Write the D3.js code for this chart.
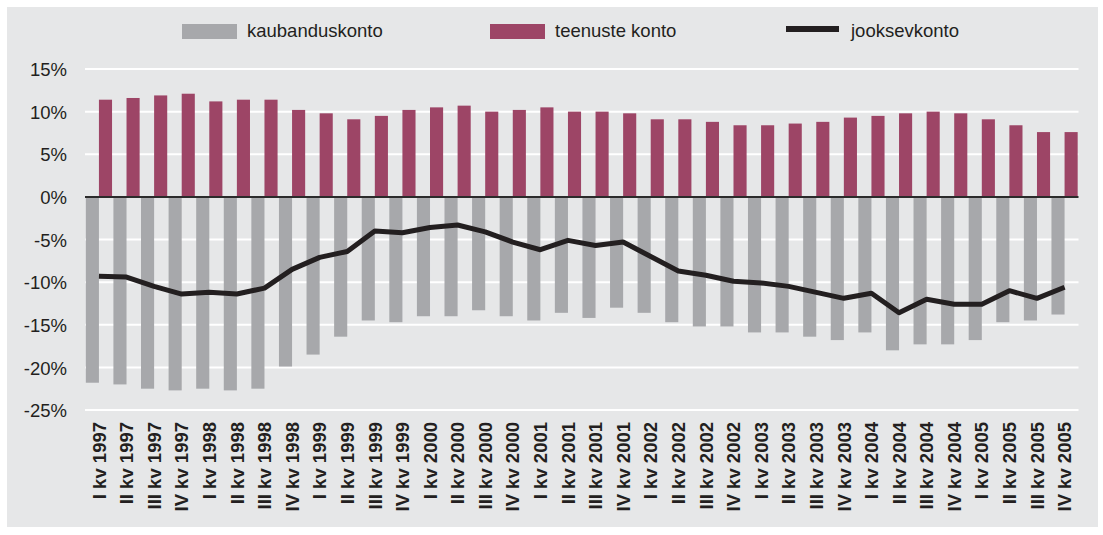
<!DOCTYPE html>
<html>
<head>
<meta charset="utf-8">
<script src="https://cdn.jsdelivr.net/npm/d3@7"></script>
<style>
  body { margin: 0; background: #fff; }
  text { font-family: "Liberation Sans", Arial, sans-serif; fill: #231f20; }
</style>
</head>
<body>
<svg class="chart" width="1103" height="535"></svg>
<script>
// quarters I kv 1997 .. IV kv 2005
const romans = ["I", "II", "III", "IV"];
const years = [1997, 1998, 1999, 2000, 2001, 2002, 2003, 2004, 2005];
const quarters = years.flatMap(y => romans.map(r => r + " kv " + y));

// % of GDP
const tradeValues = [
  -21.8, -22.0, -22.5, -22.7, -22.5, -22.7, -22.5, -19.9,
  -18.5, -16.4, -14.5, -14.7, -14.0, -14.0, -13.3, -14.0,
  -14.5, -13.6, -14.2, -13.0, -13.6, -14.7, -15.2, -15.2,
  -15.9, -15.9, -16.4, -16.8, -15.9, -18.0, -17.3, -17.3,
  -16.8, -14.7, -14.5, -13.8
];
const serviceValues = [
  11.4, 11.6, 11.9, 12.1, 11.2, 11.4, 11.4, 10.2,
  9.8, 9.1, 9.5, 10.2, 10.5, 10.7, 10.0, 10.2,
  10.5, 10.0, 10.0, 9.8, 9.1, 9.1, 8.8, 8.4,
  8.4, 8.6, 8.8, 9.3, 9.5, 9.8, 10.0, 9.8,
  9.1, 8.4, 7.6, 7.6
];
const currentValues = [
  -9.3, -9.4, -10.5, -11.4, -11.2, -11.4, -10.7, -8.5,
  -7.1, -6.4, -4.0, -4.2, -3.6, -3.3, -4.1, -5.3,
  -6.2, -5.1, -5.7, -5.3, -7.0, -8.7, -9.2, -9.9,
  -10.1, -10.5, -11.2, -11.9, -11.3, -13.6, -12.0, -12.6,
  -12.6, -11.0, -11.9, -10.6
];
const yTicks = [15, 10, 5, 0, -5, -10, -15, -20, -25];
const seriesNames = ["kaubanduskonto", "teenuste konto", "jooksevkonto"];

const greyColor = "#a7a8ab";
const maroonColor = "#9d4566";
const lineColor = "#231f20";

const svg = d3.select(".chart");

// background panel
svg.append("rect")
  .attr("x", 7).attr("y", 7)
  .attr("width", 1091).attr("height", 520)
  .attr("fill", "#e6e7e8");

const plotLeft = 85, plotRight = 1078.5, plotTop = 69, plotBottom = 410;

const xScale = d3.scaleBand().domain(quarters).range([plotLeft, plotRight])
  .paddingInner(0.05).paddingOuter(0.03);
const xSub = d3.scaleBand().domain(["trade", "services"]).range([0, xScale.bandwidth()]);
const yScale = d3.scaleLinear().domain([-25, 15]).range([plotBottom, plotTop]);

// gridlines
svg.append("g")
  .selectAll("line")
  .data(yTicks.filter(d => d !== 0))
  .enter()
  .append("line")
  .attr("x1", plotLeft).attr("x2", plotRight)
  .attr("y1", d => yScale(d)).attr("y2", d => yScale(d))
  .attr("stroke", "#fff")
  .attr("stroke-width", 2);

// y axis labels
const yAxis = svg.append("g")
  .attr("transform", "translate(" + (plotLeft - 15) + ",0)")
  .call(d3.axisLeft(yScale).tickValues(yTicks).tickSize(0).tickFormat(d => d + "%"));
yAxis.select(".domain").remove();
yAxis.selectAll("text")
  .attr("dy", "0.36em")
  .style("font-size", "18.5px")
  .style("font-family", "'Liberation Sans', Arial, sans-serif")
  .attr("fill", "#231f20");

const data = quarters.map((q, i) => ({
  q: q,
  trade: tradeValues[i],
  services: serviceValues[i],
  current: currentValues[i]
}));

// trade bars
svg.append("g")
  .selectAll("rect")
  .data(data)
  .enter()
  .append("rect")
  .attr("x", d => xScale(d.q) + xSub("trade"))
  .attr("y", yScale(0))
  .attr("width", xSub.bandwidth())
  .attr("height", d => yScale(d.trade) - yScale(0))
  .attr("fill", greyColor);

// services bars
svg.append("g")
  .selectAll("rect")
  .data(data)
  .enter()
  .append("rect")
  .attr("x", d => xScale(d.q) + xSub("services"))
  .attr("y", d => yScale(d.services))
  .attr("width", xSub.bandwidth())
  .attr("height", d => yScale(0) - yScale(d.services))
  .attr("fill", maroonColor);

// zero line
svg.append("line")
  .attr("x1", plotLeft).attr("x2", plotRight)
  .attr("y1", yScale(0)).attr("y2", yScale(0))
  .attr("stroke", "#2b2b2b")
  .attr("stroke-width", 2);

// current account line
const line = d3.line()
  .x(d => xScale(d.q) + xScale.bandwidth() / 2)
  .y(d => yScale(d.current));
svg.append("path")
  .datum(data)
  .attr("d", line)
  .attr("fill", "none")
  .attr("stroke", lineColor)
  .attr("stroke-width", 5)
  .attr("stroke-linejoin", "round");

// x axis labels
const xAxis = svg.append("g")
  .attr("transform", "translate(0," + (plotBottom + 12) + ")")
  .call(d3.axisBottom(xScale).tickSize(0));
xAxis.select(".domain").remove();
xAxis.selectAll("text")
  .attr("transform", "rotate(-90)")
  .attr("x", 0)
  .attr("y", 0)
  .attr("dy", "0.36em")
  .style("text-anchor", "end")
  .style("font-size", "18.5px")
  .style("font-weight", "bold")
  .style("font-family", "'Liberation Sans', Arial, sans-serif")
  .attr("fill", "#231f20");

// legend
const legendX = [182, 490, 786];
const legend = svg.append("g");
legend.append("rect").attr("x", legendX[0]).attr("y", 24).attr("width", 55).attr("height", 15).attr("fill", greyColor);
legend.append("rect").attr("x", legendX[1]).attr("y", 24).attr("width", 55).attr("height", 15).attr("fill", maroonColor);
legend.append("line")
  .attr("x1", legendX[2]).attr("x2", legendX[2] + 53)
  .attr("y1", 29).attr("y2", 29)
  .attr("stroke", lineColor).attr("stroke-width", 6);
legend.selectAll("text")
  .data(seriesNames)
  .enter()
  .append("text")
  .attr("x", (d, i) => legendX[i] + 65)
  .attr("y", 37)
  .style("font-size", "18.5px")
  .text(d => d);
</script>
</body>
</html>
